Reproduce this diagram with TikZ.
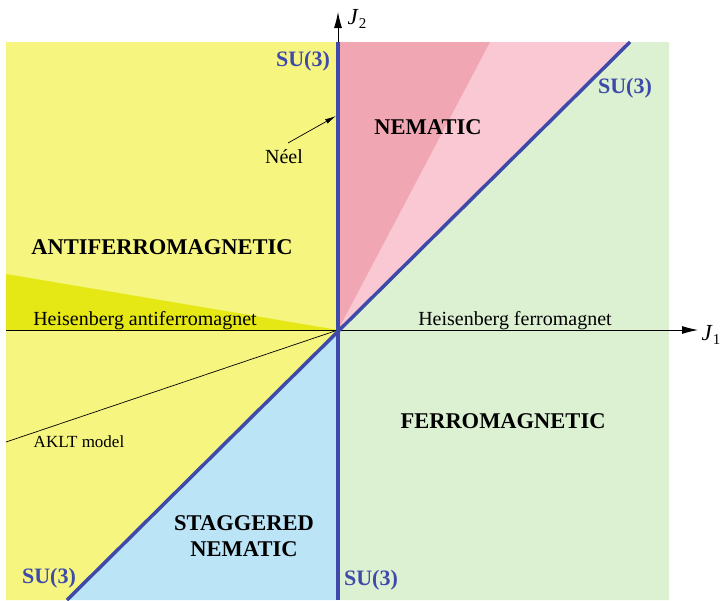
\documentclass[tikz,border=0pt]{standalone}
\usepackage{fontspec}
\setmainfont{Liberation Serif}
\usetikzlibrary{arrows.meta}
\definecolor{yel}{RGB}{246,245,128}
\definecolor{yeldark}{RGB}{229,232,21}
\definecolor{pinkdark}{RGB}{240,167,179}
\definecolor{pinklight}{RGB}{249,200,210}
\definecolor{bluelight}{RGB}{188,228,247}
\definecolor{greenlight}{RGB}{220,240,210}
\definecolor{sublue}{RGB}{62,74,170}
\newcommand{\axlab}[1]{\textit{J}\raisebox{-0.35ex}{\fontsize{15}{17}\selectfont #1}}
\tikzset{
  phase/.style={font=\fontsize{22.5}{26}\selectfont\bfseries, text=black, align=center, inner sep=0pt},
  sulabel/.style={font=\fontsize{22}{26}\selectfont\bfseries, text=sublue, inner sep=0pt},
  plain/.style={font=\fontsize{20}{24}\selectfont, inner sep=0pt},
  axlabel/.style={font=\fontsize{23}{26}\selectfont, inner sep=0pt},
  small/.style={font=\fontsize{17}{20}\selectfont, inner sep=0pt},
  axis/.style={black, line width=0.8pt, -{Latex[length=16pt,width=8pt]}},
  bound/.style={sublue, line width=3.5pt},
  thin/.style={black, line width=0.7pt}
}
\begin{document}
\begin{tikzpicture}[x=1pt,y=-1pt]
\useasboundingbox (0,0) rectangle (722,600);
% key points
\coordinate (O) at (338,330);
\coordinate (TL) at (6,42);
\coordinate (TR) at (669,42);
\coordinate (BL) at (6,600);
\coordinate (BR) at (669,600);
\coordinate (T) at (338,42);
\coordinate (B) at (338,600);
\coordinate (D1) at (630,42);
\coordinate (D2) at (67,600);
\coordinate (P) at (490,42);
\coordinate (W) at (6,274);
\coordinate (L) at (6,330);
\coordinate (A) at (6,442);
% regions
\fill[yel] (TL) -- (T) -- (O) -- (D2) -- (BL) -- cycle;
\fill[yeldark] (O) -- (W) -- (L) -- cycle;
\fill[greenlight] (D1) -- (TR) -- (BR) -- (B) -- (O) -- cycle;
\fill[bluelight] (O) -- (B) -- (D2) -- cycle;
\fill[pinklight] (T) -- (D1) -- (O) -- cycle;
\fill[pinkdark] (T) -- (P) -- (O) -- cycle;
% thin lines
\draw[thin] (O) -- (A);
\coordinate (J1tip) at (698,330);
\coordinate (J2tip) at (338,12);
\draw[axis] (L) -- (J1tip);
\draw[axis] (O) -- (J2tip);
% boundaries
\draw[bound] (T) -- (B);
\draw[bound] (D1) -- (D2);
% labels
\node[axlabel] (J2) at (357,19) {\axlab{2}};
\node[axlabel] (J1) at (711,335) {\axlab{1}};
\node[phase] (nem) at (428,127) {NEMATIC};
\node[phase] (afm) at (162,247) {ANTIFERROMAGNETIC};
\node[phase] (fm) at (503,421) {FERROMAGNETIC};
\node[phase] (snem) at (244,536) {STAGGERED\\NEMATIC};
\node[sulabel] (su1) at (303,61) {SU(3)};
\node[sulabel] (su2) at (625,88) {SU(3)};
\node[sulabel] (su3) at (49,578) {SU(3)};
\node[sulabel] (su4) at (371,580) {SU(3)};
\node[plain] (haf) at (145,321) {Heisenberg antiferromagnet};
\node[plain] (hf) at (515,321) {Heisenberg ferromagnet};
\node[plain] (neel) at (284,157) {Néel};
\node[small] (aklt) at (79,442) {AKLT model};
\coordinate (neelstart) at (288,143);
\coordinate (neeltip) at (336,116);
\draw[black, line width=0.7pt, -{Latex[length=11pt,width=5pt]}] (neelstart) -- (neeltip);
\end{tikzpicture}
\end{document}
